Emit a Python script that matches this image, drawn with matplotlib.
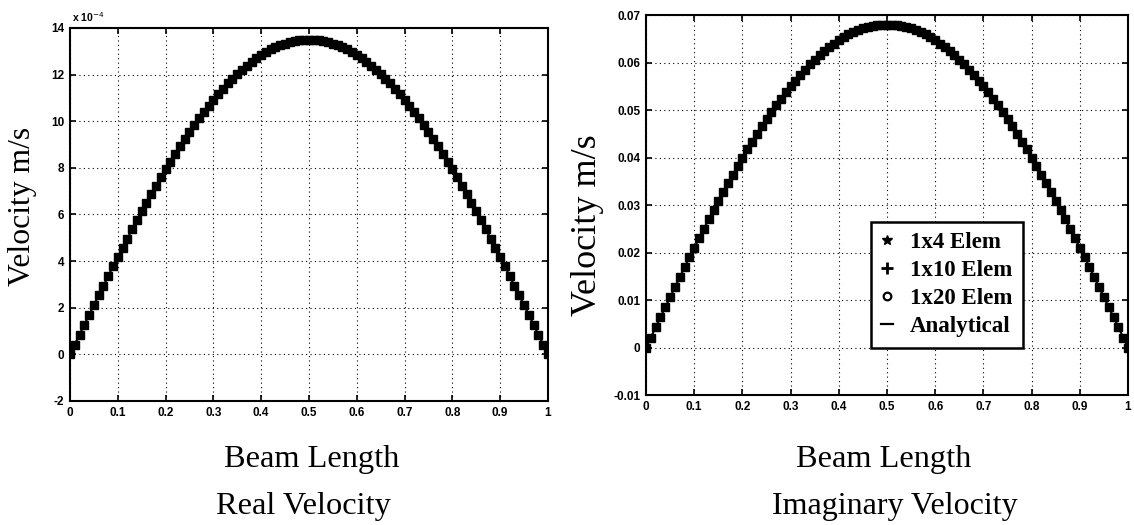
import numpy as np
import matplotlib
matplotlib.use("Agg")
import matplotlib.pyplot as plt
from matplotlib.lines import Line2D

# beam position, 101 stations
beam_x = [i / 100 for i in range(101)]

# real part of velocity, units of 1e-4 m/s
real_vel = [
    0.00, 0.42, 0.85, 1.27, 1.69, 2.11, 2.53, 2.94, 3.36, 3.77,
    4.17, 4.57, 4.97, 5.36, 5.75, 6.13, 6.50, 6.87, 7.23, 7.59,
    7.94, 8.27, 8.60, 8.93, 9.24, 9.55, 9.84, 10.13, 10.40, 10.67,
    10.92, 11.17, 11.40, 11.62, 11.83, 12.03, 12.21, 12.39, 12.55, 12.70,
    12.84, 12.96, 13.08, 13.17, 13.26, 13.33, 13.39, 13.44, 13.47, 13.49,
    13.50,
    13.49, 13.47, 13.44, 13.39, 13.33, 13.26, 13.17, 13.08, 12.96, 12.84,
    12.70, 12.55, 12.39, 12.21, 12.03, 11.83, 11.62, 11.40, 11.17, 10.92,
    10.67, 10.40, 10.13, 9.84, 9.55, 9.24, 8.93, 8.60, 8.27, 7.94,
    7.59, 7.23, 6.87, 6.50, 6.13, 5.75, 5.36, 4.97, 4.57, 4.17,
    3.77, 3.36, 2.94, 2.53, 2.11, 1.69, 1.27, 0.85, 0.42, 0.00,
]

# imaginary part of velocity, m/s
imag_vel = [
    0.0000, 0.0021, 0.0043, 0.0064, 0.0085, 0.0106, 0.0127, 0.0148, 0.0169, 0.0190,
    0.0210, 0.0230, 0.0250, 0.0270, 0.0290, 0.0309, 0.0328, 0.0346, 0.0364, 0.0382,
    0.0400, 0.0417, 0.0433, 0.0450, 0.0466, 0.0481, 0.0496, 0.0510, 0.0524, 0.0537,
    0.0550, 0.0562, 0.0574, 0.0585, 0.0596, 0.0606, 0.0615, 0.0624, 0.0632, 0.0640,
    0.0647, 0.0653, 0.0659, 0.0664, 0.0668, 0.0672, 0.0675, 0.0677, 0.0679, 0.0680,
    0.0680,
    0.0680, 0.0679, 0.0677, 0.0675, 0.0672, 0.0668, 0.0664, 0.0659, 0.0653, 0.0647,
    0.0640, 0.0632, 0.0624, 0.0615, 0.0606, 0.0596, 0.0585, 0.0574, 0.0562, 0.0550,
    0.0537, 0.0524, 0.0510, 0.0496, 0.0481, 0.0466, 0.0450, 0.0433, 0.0417, 0.0400,
    0.0382, 0.0364, 0.0346, 0.0328, 0.0309, 0.0290, 0.0270, 0.0250, 0.0230, 0.0210,
    0.0190, 0.0169, 0.0148, 0.0127, 0.0106, 0.0085, 0.0064, 0.0043, 0.0021, 0.0000,
]

x_ticks = [0, 0.1, 0.2, 0.3, 0.4, 0.5, 0.6, 0.7, 0.8, 0.9, 1]
x_labels = ["0", "0.1", "0.2", "0.3", "0.4", "0.5", "0.6", "0.7", "0.8", "0.9", "1"]
real_ticks = [-2, 0, 2, 4, 6, 8, 10, 12, 14]
imag_ticks = [-0.01, 0, 0.01, 0.02, 0.03, 0.04, 0.05, 0.06, 0.07]
imag_labels = ["-0.01", "0", "0.01", "0.02", "0.03", "0.04", "0.05", "0.06", "0.07"]
legend_names = ["1x4 Elem", "1x10 Elem", "1x20 Elem", "Analytical"]

serif = "Liberation Serif"
tick_font = {"family": "Liberation Sans", "weight": "bold", "size": 8.5}

fig = plt.figure(figsize=(11.34, 5.25), dpi=100)
ax1 = fig.add_axes([0.0617, 0.2362, 0.4215, 0.7105])
ax2 = fig.add_axes([0.5697, 0.2476, 0.4250, 0.7238])


def style_axes(ax, yticks, ylabels):
    ax.set_xlim(0, 1)
    ax.set_xticks(x_ticks)
    ax.set_xticklabels(x_labels, fontdict=tick_font)
    ax.set_yticks(yticks)
    ax.set_yticklabels(ylabels, fontdict=tick_font)
    ax.set_ylim(yticks[0], yticks[-1])
    ax.tick_params(direction="in", length=4, width=1.2, top=True, right=True, pad=4)
    ax.grid(True, color="black", linestyle=(0, (1, 3)), linewidth=0.8)
    for sp in ax.spines.values():
        sp.set_linewidth(1.5)


ax1.plot(beam_x, real_vel, "-s", color="black", markersize=5.8, linewidth=1.5)
style_axes(ax1, real_ticks, [str(t) for t in real_ticks])
ax1.text(0.005, 1.012, r"x 10$^{-4}$", transform=ax1.transAxes,
         fontsize=7.5, fontweight="bold", family="Liberation Sans", va="bottom")

ax2.plot(beam_x, imag_vel, "-s", color="black", markersize=5.8, linewidth=1.5)
style_axes(ax2, imag_ticks, imag_labels)

handles = [
    Line2D([], [], color="black", marker="*", linestyle="none", markersize=7),
    Line2D([], [], color="black", marker="+", linestyle="none", markersize=8, markeredgewidth=2),
    Line2D([], [], color="black", marker="o", linestyle="none", markersize=5.5,
           markerfacecolor="none", markeredgewidth=1.6),
    Line2D([], [], color="black", linestyle="-", linewidth=1.6),
]
leg = ax2.legend(handles, legend_names, loc="upper left", bbox_to_anchor=(0.467, 0.455),
                 prop={"family": serif, "weight": "bold", "size": 16.5},
                 handlelength=0.5, handletextpad=0.75, labelspacing=0.3,
                 borderpad=0.45, borderaxespad=0, fancybox=False, framealpha=1,
                 edgecolor="black")
leg.get_frame().set_linewidth(1.8)

# axis titles below and beside each panel
fig.text(0.0195, 0.606, "Velocity m/s", rotation=90, family=serif, fontsize=22.8,
         ha="center", va="center")
fig.text(0.518, 0.572, "Velocity m/s", rotation=90, family=serif, fontsize=26,
         ha="center", va="center")
fig.text(0.275, 0.124, "Beam Length", family=serif, fontsize=23.3, ha="center", va="center")
fig.text(0.7795, 0.124, "Beam Length", family=serif, fontsize=23.3, ha="center", va="center")
fig.text(0.268, 0.036, "Real Velocity", family=serif, fontsize=23.3, ha="center", va="center")
fig.text(0.789, 0.036, "Imaginary Velocity", family=serif, fontsize=23, ha="center", va="center")

fig.savefig("out.png", dpi=100)
